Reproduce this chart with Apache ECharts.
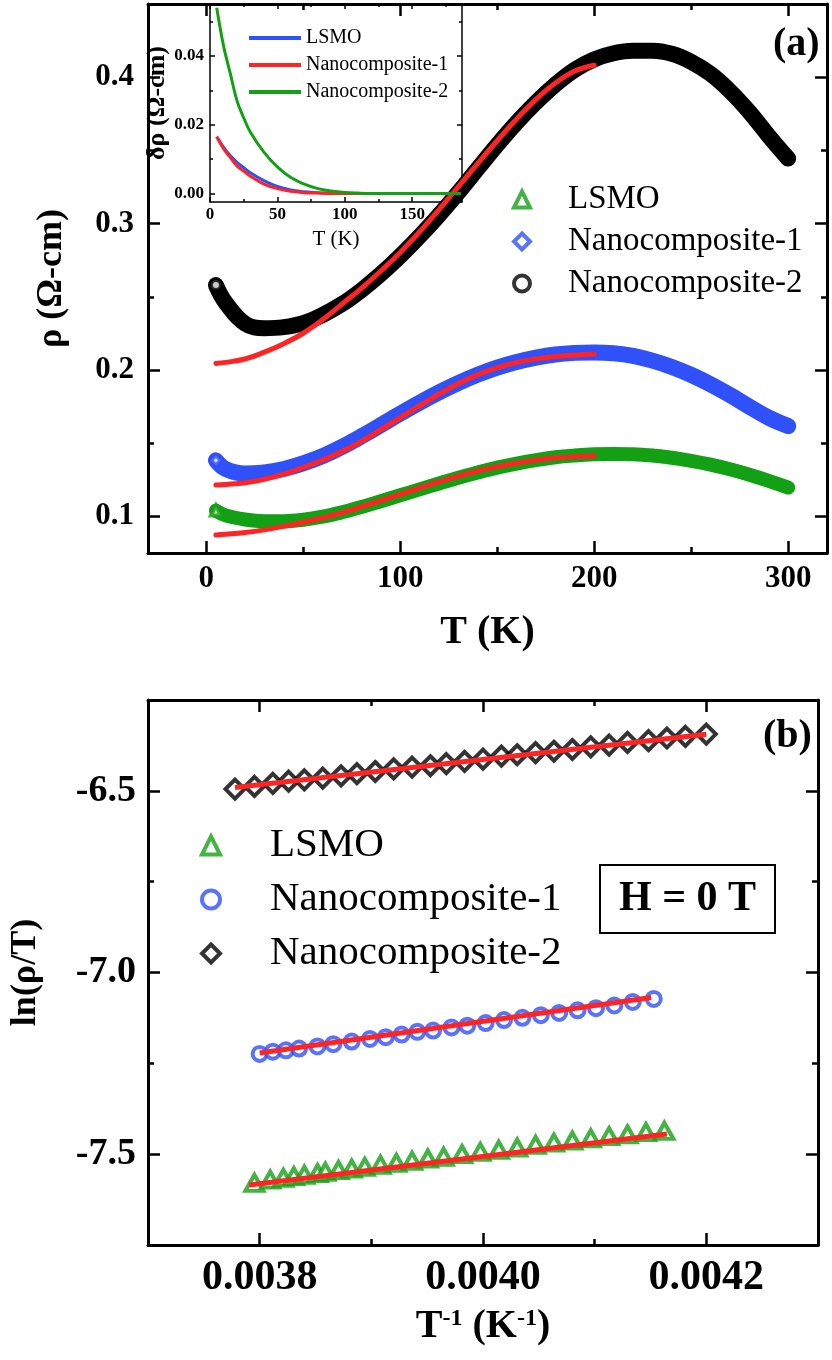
<!DOCTYPE html>
<html>
<head>
<meta charset="utf-8">
<script src="https://cdn.jsdelivr.net/npm/echarts@6/dist/echarts.min.js"></script>
<style>
  html, body { margin: 0; padding: 0; background: #fff; }
  #chart { width: 832px; height: 1360px; }
</style>
</head>
<body>
<div id="chart"></div>
<script>
// ---- panel (a): rho vs T ----
var tA = [5, 10, 20, 30, 40, 50, 60, 70, 80, 90, 100, 110, 120, 130, 140, 150, 160, 170, 180, 190, 200,
          210, 220, 230, 240, 250, 260, 270, 280, 290, 300];
var rhoLSMO = [0.104, 0.1007, 0.0979, 0.0967, 0.0967, 0.0977, 0.0998, 0.1028, 0.1064, 0.1104, 0.1144, 0.1185,
               0.1225, 0.1264, 0.13, 0.1333, 0.1361, 0.1385, 0.1404, 0.1416, 0.1424, 0.1427, 0.1425, 0.1416,
               0.1401, 0.138, 0.1354, 0.1322, 0.1285, 0.1243, 0.1197];
var rhoNC1 = [0.1383, 0.1324, 0.1293, 0.13, 0.1324, 0.1362, 0.1411, 0.1475, 0.1547, 0.1624, 0.1702, 0.1777,
              0.1847, 0.1911, 0.1968, 0.2016, 0.2054, 0.2084, 0.2106, 0.2117, 0.212, 0.2114, 0.2096, 0.2064,
              0.2021, 0.1967, 0.1902, 0.1829, 0.1749, 0.1674, 0.1617];
var rhoNC2 = [0.258, 0.246, 0.2317, 0.2286, 0.2293, 0.232, 0.2376, 0.245, 0.2545, 0.2655, 0.2778, 0.2913,
              0.3058, 0.3213, 0.3376, 0.3538, 0.369, 0.3828, 0.395, 0.4051, 0.4122, 0.4164, 0.4181, 0.4181,
              0.416, 0.4105, 0.4022, 0.3905, 0.3762, 0.3598, 0.3444];
// fitted curves (5 - 200 K)
var tFit = [5, 10, 20, 30, 40, 50, 60, 70, 80, 90, 100, 110, 120, 130, 140, 150, 160, 170, 180, 190, 200];
var fitLSMO = [0.0873, 0.0878, 0.089, 0.0908, 0.0932, 0.096, 0.0991, 0.1026, 0.1066, 0.1108, 0.1151, 0.1194,
               0.1236, 0.1275, 0.131, 0.134, 0.1365, 0.1385, 0.14, 0.141, 0.1415];
var fitNC1 = [0.1214, 0.1218, 0.123, 0.1254, 0.1289, 0.1334, 0.1385, 0.1443, 0.1512, 0.1592, 0.1674, 0.1756,
              0.1836, 0.1908, 0.1968, 0.2016, 0.2052, 0.2076, 0.2092, 0.2103, 0.211];
var fitNC2 = [0.2045, 0.2052, 0.2075, 0.2122, 0.218, 0.2251, 0.2343, 0.245, 0.2558, 0.2676, 0.2803, 0.2944,
              0.3096, 0.3252, 0.3412, 0.3566, 0.3714, 0.3848, 0.396, 0.4042, 0.4082];

// ---- inset: delta rho vs T ----
var tIn = [5, 10, 15, 20, 25, 30, 40, 50, 60, 70, 80, 90, 100, 110, 120, 130, 140, 150, 160, 170, 180, 186];
var dLSMO = [0.0165, 0.0135, 0.011, 0.009, 0.0075, 0.006, 0.0037, 0.002, 0.001, 0.0005, 0.0002, 0.0001,
             0, 0, 0, 0, 0, 0, 0, 0, 0, 0];
var dNC1 = [0.0165, 0.013, 0.0105, 0.008, 0.0065, 0.005, 0.0027, 0.0014, 0.0006, 0.0002, 0.0001, 0,
            0, 0, 0, 0, 0, 0, 0, 0, 0, 0];
var dNC2 = [0.054, 0.043, 0.035, 0.027, 0.022, 0.0178, 0.012, 0.0077, 0.0046, 0.0027, 0.0014, 0.0007,
            0.0003, 0.0001, 0, 0, 0, 0, 0, 0, 0, 0];

// ---- panel (b): ln(rho/T) vs 1/T ----
var invT_LSMO = [0.0037953, 0.0038094, 0.0038212, 0.0038306, 0.00384, 0.0038518, 0.0038588, 0.0038706,
                 0.0038824, 0.0038941, 0.0039082, 0.0039224, 0.0039365, 0.0039506, 0.0039647, 0.0039812,
                 0.0039976, 0.0040141, 0.0040306, 0.0040471, 0.0040635, 0.00408, 0.0040965, 0.0041129,
                 0.0041294, 0.0041459, 0.0041624];
var lnLSMO = [-7.5787, -7.5702, -7.5654, -7.5605, -7.5569, -7.5521, -7.5484, -7.5436, -7.54, -7.5351,
              -7.5291, -7.5242, -7.5182, -7.5121, -7.5073, -7.5, -7.494, -7.4879, -7.4818, -7.4746,
              -7.4685, -7.4625, -7.4564, -7.4504, -7.4455, -7.4395, -7.4358];
var invT_NC1 = [0.0038, 0.0038118, 0.0038235, 0.0038353, 0.0038518, 0.0038659, 0.0038824, 0.0038988,
                0.0039129, 0.0039271, 0.0039412, 0.0039553, 0.0039718, 0.0039859, 0.0040024, 0.0040188,
                0.0040353, 0.0040518, 0.0040682, 0.0040847, 0.0041012, 0.0041176, 0.0041341, 0.0041529];
var lnNC1 = [-7.224, -7.2179, -7.2143, -7.2094, -7.2034, -7.1973, -7.1901, -7.1828, -7.178, -7.1707,
             -7.1634, -7.1598, -7.1513, -7.1465, -7.1392, -7.1308, -7.1247, -7.1174, -7.1114, -7.1041,
             -7.0981, -7.0908, -7.0811, -7.0726];
var invT_NC2 = [0.0037779, 0.0037953, 0.0038118, 0.0038259, 0.00384, 0.0038565, 0.0038729, 0.0038871,
                0.0039035, 0.00392, 0.0039365, 0.0039529, 0.0039671, 0.0039835, 0.004, 0.0040165,
                0.0040306, 0.0040471, 0.0040635, 0.00408, 0.0040965, 0.0041129, 0.0041294, 0.0041482,
                0.0041647, 0.0041812, 0.0042];
var lnNC2 = [-6.4952, -6.4879, -6.4794, -6.4734, -6.4697, -6.4649, -6.4588, -6.4528, -6.4467, -6.4395,
             -6.4346, -6.431, -6.4249, -6.4189, -6.4128, -6.4044, -6.4007, -6.3947, -6.391, -6.3862,
             -6.3789, -6.3741, -6.3668, -6.362, -6.3547, -6.3499, -6.3438];
// straight-line fits, end points
var lineLSMO = [[0.0037906, -7.5847], [0.0041647, -7.4443]];
var lineNC1 = [[0.0038, -7.2215], [0.0041506, -7.069]];
var lineNC2 = [[0.0037779, -6.491], [0.0042, -6.344]];

// ---- ticks ----
var ticksAx = [0, 100, 200, 300], minorAx = [50, 150, 250];
var ticksAy = [0.1, 0.2, 0.3, 0.4], minorAy = [0.15, 0.25, 0.35];
var ticksInx = [0, 50, 100, 150], minorInx = [25, 75, 125, 175];
var ticksIny = [0, 0.02, 0.04], minorIny = [0.01, 0.03, 0.05];
var ticksBx = [0.0038, 0.004, 0.0042], minorBx = [0.0039, 0.0041];
var ticksBy = [-7.5, -7.0, -6.5], minorBy = [-7.25, -6.75];

var GREEN = '#14a014', BLUE = '#3050fa', RED = '#ff2424', BLACK = '#000';
var SERIF = "'Liberation Serif', 'DejaVu Serif', serif";

function zip(a, b) {
    var out = [];
    for (var i = 0; i < a.length; i++) out.push([a[i], b[i]]);
    return out;
}

// four axes per side pair: labelled main, its minor ticks, mirror main, mirror minor
function boxAxes(dim, grid, min, max, major, minor, o) {
    var lo = dim === 'x' ? 'bottom' : 'left';
    var hi = dim === 'x' ? 'top' : 'right';
    function one(pos, vals, len, withLine, withLabel) {
        var a = {
            type: 'value', gridIndex: grid, position: pos, min: min, max: max,
            splitLine: {show: false},
            axisLine: {show: withLine, onZero: false, lineStyle: {color: '#000', width: o.lw}},
            axisTick: {show: true, inside: true, length: len, customValues: vals,
                       lineStyle: {color: '#000', width: o.tw}},
            axisLabel: {show: false}
        };
        if (withLabel) {
            a.axisLabel = Object.assign({show: true, customValues: vals, color: '#000',
                                         fontFamily: SERIF, fontWeight: 'bold'}, o.label);
            a.name = o.name;
            a.nameLocation = 'middle';
            a.nameGap = o.nameGap;
            a.nameTextStyle = Object.assign({color: '#000', fontFamily: SERIF}, o.nameStyle);
            if (dim === 'y') a.nameRotate = 90;
        }
        return a;
    }
    return [one(lo, major, o.big, true, true), one(lo, minor, o.small, false, false),
            one(hi, major, o.big, true, false), one(hi, minor, o.small, false, false)];
}

var xAxes = [].concat(
    boxAxes('x', 0, -30, 320, ticksAx, minorAx, {lw: 3, tw: 2.5, big: 12, small: 6,
        label: {fontSize: 31, margin: 10}, name: 'T (K)', nameGap: 60,
        nameStyle: {fontSize: 40, fontWeight: 'bold'}}),
    boxAxes('x', 1, 0, 187, ticksInx, minorInx, {lw: 1.5, tw: 1.5, big: 5, small: 3,
        label: {fontSize: 17, margin: 4}, name: 'T (K)', nameGap: 27,
        nameStyle: {fontSize: 21, fontWeight: 'normal'}}),
    boxAxes('x', 2, 0.0037, 0.0043, ticksBx, minorBx, {lw: 3, tw: 2.5, big: 12, small: 6,
        label: {fontSize: 42, margin: 12, formatter: function (v) { return v.toFixed(4); }},
        name: '{n|T}{s|-1}{n| (K}{s|-1}{n|)}', nameGap: 62,
        nameStyle: {fontSize: 40, fontWeight: 'bold', rich: {
            n: {fontSize: 40, fontWeight: 'bold', fontFamily: SERIF, color: '#000'},
            s: {fontSize: 24, fontWeight: 'bold', fontFamily: SERIF, color: '#000', verticalAlign: 'top'}}}})
);
var yAxes = [].concat(
    boxAxes('y', 0, 0.075, 0.45, ticksAy, minorAy, {lw: 3, tw: 2.5, big: 12, small: 6,
        label: {fontSize: 31, margin: 14}, name: 'ρ (Ω-cm)', nameGap: 78,
        nameStyle: {fontSize: 36, fontWeight: 'bold'}}),
    boxAxes('y', 1, -0.0025, 0.0551, ticksIny, minorIny, {lw: 1.5, tw: 1.5, big: 5, small: 3,
        label: {fontSize: 17, margin: 6, formatter: function (v) { return v.toFixed(2); }},
        name: 'δρ (Ω-cm)', nameGap: 32, nameStyle: {fontSize: 26, fontWeight: 'bold'}}),
    boxAxes('y', 2, -7.75, -6.25, ticksBy, minorBy, {lw: 3, tw: 2.5, big: 12, small: 6,
        label: {fontSize: 38, margin: 12, formatter: function (v) { return v.toFixed(1); }},
        name: 'ln(ρ/T)', nameGap: 104, nameStyle: {fontSize: 36, fontWeight: 'bold'}})
);

function band(data, color, width) {
    return {type: 'line', xAxisIndex: 0, yAxisIndex: 0, data: data, smooth: 0.4, symbol: 'none',
            lineStyle: {color: color, width: width, cap: 'round', join: 'round'}, z: 2, silent: true};
}
function fitA(data) {
    return {type: 'line', xAxisIndex: 0, yAxisIndex: 0, data: data, smooth: 0.4, symbol: 'none',
            lineStyle: {color: RED, width: 5, cap: 'round'}, z: 4, silent: true};
}
function firstMark(name, pt, symbol, color) {
    return {type: 'scatter', name: name, xAxisIndex: 0, yAxisIndex: 0, data: [pt], symbol: symbol,
            symbolSize: 10, itemStyle: {color: '#fff', borderColor: color, borderWidth: 4}, z: 3};
}
function insetLine(name, data, color) {
    return {type: 'line', name: name, xAxisIndex: 4, yAxisIndex: 4, data: data, smooth: 0.4,
            symbol: 'none', itemStyle: {color: color}, lineStyle: {color: color, width: 3}, z: 5};
}
function pointsB(name, data, symbol, size, color) {
    return {type: 'scatter', name: name, xAxisIndex: 8, yAxisIndex: 8, data: data, symbol: symbol,
            symbolSize: size, itemStyle: {color: '#fff', borderColor: color, borderWidth: 4}, z: 3};
}
function fitB(data) {
    return {type: 'line', xAxisIndex: 8, yAxisIndex: 8, data: data, symbol: 'none',
            lineStyle: {color: RED, width: 5}, z: 4, silent: true};
}

var series = [
    band(zip(tA, rhoLSMO), GREEN, 14),
    band(zip(tA, rhoNC1), BLUE, 16),
    band(zip(tA, rhoNC2), BLACK, 16),
    firstMark('a:LSMO', [tA[0], rhoLSMO[0]], 'triangle', GREEN),
    firstMark('a:Nanocomposite-1', [tA[0], rhoNC1[0]], 'diamond', BLUE),
    firstMark('a:Nanocomposite-2', [tA[0], rhoNC2[0]], 'circle', BLACK),
    fitA(zip(tFit, fitLSMO)),
    fitA(zip(tFit, fitNC1)),
    fitA(zip(tFit, fitNC2)),
    insetLine('i:LSMO', zip(tIn, dLSMO), BLUE),
    insetLine('i:Nanocomposite-1', zip(tIn, dNC1), RED),
    insetLine('i:Nanocomposite-2', zip(tIn, dNC2), GREEN),
    pointsB('b:LSMO', zip(invT_LSMO, lnLSMO), 'triangle', [18, 16], GREEN),
    pointsB('b:Nanocomposite-1', zip(invT_NC1, lnNC1), 'circle', 14, BLUE),
    pointsB('b:Nanocomposite-2', zip(invT_NC2, lnNC2), 'diamond', [19, 19], BLACK),
    fitB(lineLSMO),
    fitB(lineNC1),
    fitB(lineNC2)
];

function stripName(n) { return n.split(':')[1]; }
function hollow(name, icon, color, bw) {
    return {name: name, icon: icon, itemStyle: {color: '#fff', borderColor: color, borderWidth: bw}};
}
function solid(name, color) {
    return {name: name, icon: 'rect', itemStyle: {color: color}};
}

var myChart = echarts.init(document.getElementById('chart'));
myChart.setOption({
    animation: false,
    backgroundColor: '#fff',
    textStyle: {fontFamily: SERIF},
    grid: [
        {left: 148, top: 4, width: 679, height: 549},
        {left: 210, top: 4, width: 252, height: 198},
        {left: 143, top: 700, width: 675, height: 545}
    ],
    xAxis: xAxes,
    yAxis: yAxes,
    title: [
        {text: '(a)', left: 768, top: 20, textStyle: {fontFamily: SERIF, fontSize: 40, fontWeight: 'bold', color: '#000'}},
        {text: '(b)', left: 758, top: 712, textStyle: {fontFamily: SERIF, fontSize: 40, fontWeight: 'bold', color: '#000'}},
        {text: 'H = 0 T', left: 600, top: 865, padding: [13, 19], borderColor: '#000', borderWidth: 2,
         textStyle: {fontFamily: SERIF, fontSize: 42, fontWeight: 'bold', color: '#000'}}
    ],
    legend: [
        {orient: 'vertical', left: 507, top: 178, itemWidth: 16, itemHeight: 16, itemGap: 9,
         selectedMode: false, formatter: stripName,
         textStyle: {fontFamily: SERIF, fontSize: 33, color: '#000', padding: [0, 0, 0, 33]},
         data: [hollow('a:LSMO', 'triangle', GREEN, 4), hollow('a:Nanocomposite-1', 'diamond', BLUE, 4),
                hollow('a:Nanocomposite-2', 'circle', BLACK, 4)]},
        {orient: 'vertical', left: 244, top: 23, itemWidth: 52, itemHeight: 4, itemGap: 7,
         selectedMode: false, formatter: stripName,
         textStyle: {fontFamily: SERIF, fontSize: 20, color: '#000'},
         data: [solid('i:LSMO', BLUE), solid('i:Nanocomposite-1', RED), solid('i:Nanocomposite-2', GREEN)]},
        {orient: 'vertical', left: 195, top: 820, itemWidth: 18, itemHeight: 18, itemGap: 13,
         selectedMode: false, formatter: stripName,
         textStyle: {fontFamily: SERIF, fontSize: 41, color: '#000', padding: [0, 0, 0, 45]},
         data: [hollow('b:LSMO', 'triangle', GREEN, 4), hollow('b:Nanocomposite-1', 'circle', BLUE, 4),
                hollow('b:Nanocomposite-2', 'diamond', BLACK, 4)]}
    ],
    series: series
});

window.addEventListener('resize', function () { myChart.resize(); });
</script>
</body>
</html>
